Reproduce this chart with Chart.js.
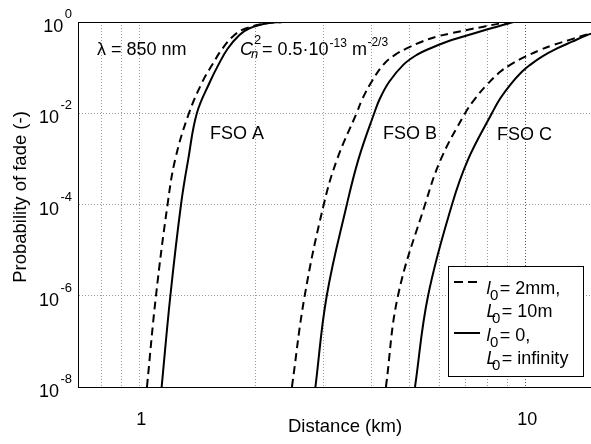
<!DOCTYPE html>
<html>
<head>
<meta charset="utf-8">
<script src="https://cdn.jsdelivr.net/npm/chart.js@4.4.1/dist/chart.umd.min.js"></script>
<style>
  html, body { margin: 0; padding: 0; background: #fff; overflow: hidden; }
  canvas { display: block; }
</style>
</head>
<body>
<canvas id="fade" width="591" height="444"></canvas>
<script>
  const FONT = '"Liberation Sans", Arial, Helvetica, sans-serif';

  // axis ticks
  const xTickLabels = [1, 10];
  const xGridValues = [0.8, 0.9, 1, 2, 3, 4, 5, 6, 7, 8, 9, 10];
  const yTickValues = [1, 1e-2, 1e-4, 1e-6, 1e-8];
  const yTickExponents = ["0", "-2", "-4", "-6", "-8"];

  // FSO A (km, probability)
  const distA_dash = [1.047, 1.105, 1.184, 1.24, 1.345, 1.458, 1.545, 1.643, 1.765, 1.893, 2.134, 2.35];
  const probA_dash = [1e-8, 1e-6, 1e-4, 1e-3, 1.0e-2, 0.049, 0.115, 0.263, 0.52, 0.73, 0.94, 1];
  const distA_solid = [1.143, 1.204, 1.283, 1.34, 1.41, 1.525, 1.603, 1.696, 1.818, 1.931, 2.15, 2.35];
  const probA_solid = [1e-8, 1e-6, 1e-4, 1e-3, 1.0e-2, 0.049, 0.115, 0.263, 0.52, 0.73, 0.94, 1];

  // FSO B
  const distB_dash = [2.486, 2.683, 3.006, 3.258, 3.655, 3.788, 3.999, 4.285, 4.596, 4.928, 5.393, 5.897, 6.387, 7.058, 7.796, 8.61, 9.14];
  const probB_dash = [1e-8, 1e-6, 1e-4, 1e-3, 1.0e-2, 0.021, 0.049, 0.115, 0.19, 0.263, 0.37, 0.48, 0.56, 0.67, 0.79, 0.93, 1];
  const distB_solid = [2.86, 3.06, 3.45, 3.7, 4.061, 4.202, 4.442, 4.83, 5.233, 5.665, 6.261, 6.916, 7.641, 8.445, 9.05, 9.31];
  const probB_solid = [1e-8, 1e-6, 1e-4, 1e-3, 1.0e-2, 0.021, 0.049, 0.115, 0.19, 0.263, 0.37, 0.48, 0.62, 0.79, 0.93, 1];

  // FSO C
  const distC_dash = [4.355, 4.68, 5.5, 6.05, 6.985, 7.417, 7.953, 8.612, 9.141, 10.0, 10.94, 11.85, 13.09, 14.75, 15.2];
  const probC_dash = [1e-8, 1e-6, 1e-4, 1e-3, 1.0e-2, 0.021, 0.042, 0.081, 0.115, 0.174, 0.245, 0.316, 0.41, 0.56, 0.59];
  const distC_solid = [5.18, 5.6, 6.46, 7.12, 8.194, 8.61, 9.141, 9.8, 10.3, 11.05, 12.09, 13.22, 14.47, 15.2];
  const probC_solid = [1e-8, 1e-6, 1e-4, 1e-3, 1.0e-2, 0.021, 0.042, 0.081, 0.115, 0.174, 0.263, 0.37, 0.52, 0.585];

  const pts = (xs, ps) => xs.map((x, i) => ({ x, y: ps[i] }));

  function curve(xs, ps, dashed) {
    return {
      data: pts(xs, ps),
      borderColor: "#000",
      borderWidth: 2,
      borderDash: dashed ? [8, 5] : [],
      pointRadius: 0,
      tension: 0.4,
      fill: false,
    };
  }

  function put(ctx, s, x, y, size, style) {
    ctx.font = (style ? style + " " : "") + size + "px " + FONT;
    ctx.fillText(s, x, y);
    return ctx.measureText(s).width;
  }

  function legendRow(ctx, letter, rest, x, base, subDx) {
    ctx.textAlign = "left";
    put(ctx, letter, x, base, 18, "italic");
    const sw = put(ctx, "0", x + subDx, base + 6, 15);
    put(ctx, rest, x + subDx + sw + 1.5, base, 18);
  }

  const textPlugin = {
    id: "fadeText",
    afterDraw(chart) {
      const { ctx, scales } = chart;
      const x = scales.x, y = scales.y;
      ctx.save();
      ctx.fillStyle = "#000";
      ctx.textBaseline = "alphabetic";

      // y tick labels 10^n
      yTickValues.forEach((v, i) => {
        const py = y.getPixelForValue(v);
        ctx.font = "13px " + FONT;
        const ew = ctx.measureText(yTickExponents[i]).width;
        ctx.textAlign = "left";
        ctx.fillText(yTickExponents[i], 72 - ew, py - 4);
        ctx.font = "18px " + FONT;
        ctx.textAlign = "right";
        ctx.fillText("10", 72 - ew - 1.5, py + 10);
      });

      // x tick labels
      ctx.textAlign = "center";
      xTickLabels.forEach((v) => {
        put(ctx, String(v), x.getPixelForValue(v) + 2, 425, 18);
      });

      // axis titles
      put(ctx, "Distance (km)", 345, 432, 18.5);
      ctx.save();
      ctx.translate(26, 197);
      ctx.rotate(-Math.PI / 2);
      put(ctx, "Probability of fade (-)", 0, 0, 18.5);
      ctx.restore();

      // annotations
      ctx.textAlign = "left";
      put(ctx, "\u03bb = 850 nm", 97, 55, 18);
      put(ctx, "FSO A", 210, 139, 18);
      put(ctx, "FSO B", 383, 139, 18);
      put(ctx, "FSO C", 497, 140, 18);

      let cx = 240;
      cx += put(ctx, "C", cx, 55, 18, "italic");
      put(ctx, "2", cx + 1, 44, 13);
      put(ctx, "n", cx - 2, 58, 13, "italic");
      cx += 9;
      cx += put(ctx, "= 0.5\u00b710", cx, 55, 18);
      cx += put(ctx, "-13", cx + 1, 47, 12) + 1;
      cx += put(ctx, " m", cx, 55, 18);
      put(ctx, "-2/3", cx + 0.5, 46, 12);

      // legend box
      ctx.fillStyle = "#fff";
      ctx.fillRect(448.5, 266.5, 135, 110);
      ctx.strokeStyle = "#000";
      ctx.lineWidth = 1;
      ctx.setLineDash([]);
      ctx.strokeRect(448.5, 266.5, 135, 110);

      ctx.lineWidth = 2;
      ctx.setLineDash([9, 5]);
      ctx.beginPath();
      ctx.moveTo(454, 282);
      ctx.lineTo(477, 282);
      ctx.stroke();
      ctx.setLineDash([]);
      ctx.beginPath();
      ctx.moveTo(454, 333);
      ctx.lineTo(480, 333);
      ctx.stroke();

      ctx.fillStyle = "#000";
      legendRow(ctx, "l", "= 2mm,", 486.5, 294, 3.5);
      legendRow(ctx, "L", "= 10m", 486.5, 317, 5.5);
      legendRow(ctx, "l", "= 0,", 486.5, 341, 3.5);
      legendRow(ctx, "L", "= infinity", 486.5, 364, 5.5);

      ctx.restore();
    },
  };

  new Chart(document.getElementById("fade"), {
    type: "line",
    data: {
      datasets: [
        curve(distA_dash, probA_dash, true),
        curve(distA_solid, probA_solid, false),
        curve(distB_dash, probB_dash, true),
        curve(distB_solid, probB_solid, false),
        curve(distC_dash, probC_dash, true),
        curve(distC_solid, probC_solid, false),
      ],
    },
    options: {
      responsive: false,
      animation: false,
      devicePixelRatio: 1,
      layout: { padding: { top: 22, right: 0, bottom: 0, left: 0 } },
      plugins: { legend: { display: false }, tooltip: { enabled: false } },
      scales: {
        x: {
          type: "logarithmic",
          position: "bottom",
          min: 0.694,
          max: 14.8,
          afterBuildTicks: (s) => { s.ticks = xGridValues.map((v) => ({ value: v })); },
          afterFit: (s) => { s.height = 57; },
          ticks: { display: false },
          grid: {
            lineWidth: 1,
            drawTicks: false,
            color: (c) => (c.tick && c.tick.value === 10 ? "#555" : "#999"),
          },
          border: { display: true, color: "#000", width: 1, dash: [1, 2] },
        },
        xTop: {
          type: "logarithmic",
          position: "top",
          min: 0.694,
          max: 14.8,
          afterFit: (s) => { s.height = 0; },
          ticks: { display: false },
          grid: { display: false, drawTicks: false },
          border: { display: true, color: "#000", width: 1 },
        },
        y: {
          type: "logarithmic",
          min: 1e-8,
          max: 1,
          afterBuildTicks: (s) => { s.ticks = yTickValues.map((v) => ({ value: v })); },
          afterFit: (s) => { s.width = 78; },
          ticks: { display: false },
          grid: {
            lineWidth: 1,
            drawTicks: false,
            color: (c) => (c.tick && (c.tick.value === 1 || c.tick.value === 1e-8) ? "rgba(0,0,0,0)" : "#999"),
          },
          border: { display: true, color: "#000", width: 1, dash: [1, 2] },
        },
      },
    },
    plugins: [textPlugin],
  });
</script>
</body>
</html>
